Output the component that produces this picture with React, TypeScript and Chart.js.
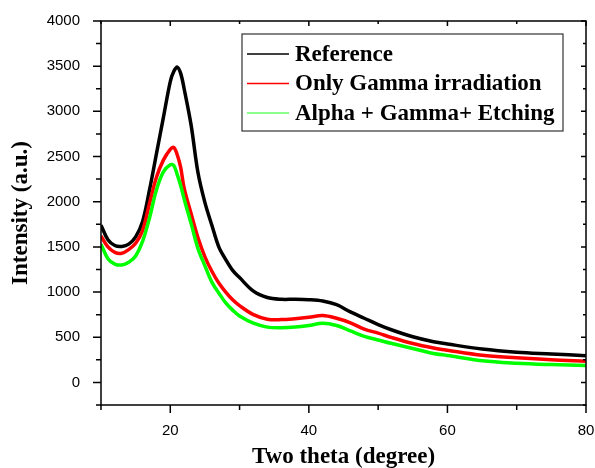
import React, { useEffect, useRef } from "react";
import { Chart, registerables } from "chart.js";

Chart.register(...registerables);

const twoTheta = [10, 11, 12, 13, 14, 15, 16, 17, 18, 19, 20, 20.5, 21, 21.5, 22, 23, 24, 25, 26, 27, 28, 29, 30, 32, 34, 36, 38, 40, 42, 44, 46, 48, 50, 52, 55, 58, 60, 65, 70, 75, 80];
const reference = [1740, 1580, 1515, 1505, 1530, 1610, 1780, 2130, 2530, 2930, 3330, 3440, 3490, 3420, 3250, 2850, 2320, 1990, 1740, 1500, 1360, 1240, 1160, 1010, 940, 920, 920, 915, 900, 860, 780, 710, 640, 580, 505, 450, 425, 370, 335, 315, 295];
const onlyGamma = [1620, 1500, 1440, 1430, 1470, 1540, 1680, 1980, 2270, 2460, 2580, 2600, 2520, 2380, 2150, 1870, 1600, 1390, 1230, 1100, 1000, 915, 850, 750, 700, 695, 705, 720, 740, 710, 660, 590, 545, 495, 430, 380, 355, 300, 272, 250, 235];
const alphaGammaEtching = [1530, 1370, 1310, 1300, 1330, 1400, 1560, 1820, 2130, 2330, 2410, 2400, 2300, 2180, 2030, 1760, 1480, 1290, 1110, 990, 880, 800, 735, 655, 612, 605, 612, 630, 655, 630, 570, 510, 470, 430, 375, 320, 298, 240, 213, 198, 188];

const seriesNames = ["Reference", "Only Gamma irradiation", "Alpha + Gamma+ Etching"];
const seriesColors = ["#000000", "#ff0000", "#00ff00"];
const xLabelValues = [20, 40, 60, 80];
const yLabelStep = 500;

const serif = "'Liberation Serif', 'Times New Roman', serif";
const sans = "'Liberation Sans', Arial, sans-serif";

const framePlugin = {
  id: "frameTicks",
  afterDatasetsDraw(chart: any) {
    const { ctx, chartArea, scales } = chart;
    const { left, right, top, bottom } = chartArea;
    const xs = scales.x;
    const ys = scales.y;
    ctx.save();
    ctx.strokeStyle = "#000";
    ctx.lineWidth = 1.5;
    ctx.strokeRect(left, top, right - left, bottom - top);
    ctx.beginPath();
    xs.ticks.forEach((t: any) => {
      const px = xs.getPixelForValue(t.value);
      const major = xLabelValues.includes(t.value);
      const len = major ? 8 : 5;
      ctx.moveTo(px, bottom);
      ctx.lineTo(px, bottom + len);
      ctx.moveTo(px, top);
      ctx.lineTo(px, top + (major ? 5 : 3));
    });
    ys.ticks.forEach((t: any) => {
      const py = ys.getPixelForValue(t.value);
      const major = t.value % yLabelStep === 0;
      const len = major ? 8 : 5;
      ctx.moveTo(left, py);
      ctx.lineTo(left - len, py);
      ctx.moveTo(right, py);
      ctx.lineTo(right - (major ? 5 : 3), py);
    });
    ctx.stroke();

    // legend box
    const bx = left + 141;
    const by = top + 13;
    const bw = right - 23 - bx;
    const bh = 97;
    ctx.fillStyle = "#fff";
    ctx.fillRect(bx, by, bw, bh);
    ctx.lineWidth = 1.2;
    ctx.strokeStyle = "#333";
    ctx.strokeRect(bx, by, bw, bh);
    ctx.font = `bold 23px ${serif}`;
    ctx.textBaseline = "middle";
    ctx.fillStyle = "#000";
    seriesNames.forEach((name, i) => {
      const cy = by + 20 + i * 29.5;
      ctx.beginPath();
      ctx.strokeStyle = i === 2 ? "#66ff66" : seriesColors[i];
      ctx.lineWidth = 1.5;
      ctx.moveTo(bx + 5, cy);
      ctx.lineTo(bx + 47, cy);
      ctx.stroke();
      ctx.fillText(name, bx + 53, cy + 1);
    });
    ctx.restore();
  },
};

export default function App() {
  const ref = useRef<HTMLCanvasElement | null>(null);
  useEffect(() => {
    if (!ref.current) return;
    const series = [reference, onlyGamma, alphaGammaEtching];
    const chart = new Chart(ref.current, {
      type: "line",
      data: {
        datasets: series.map((s, i) => ({
          label: seriesNames[i],
          data: twoTheta.map((x, j) => ({ x, y: s[j] })),
          borderColor: seriesColors[i],
          borderWidth: 3.5,
          pointRadius: 0,
          tension: 0.35,
          order: 2 - i,
        })),
      },
      options: {
        animation: false,
        responsive: true,
        maintainAspectRatio: false,
        layout: { padding: { left: 0, top: 21, right: 0, bottom: 0 } },
        plugins: { legend: { display: false }, tooltip: { enabled: false } },
        scales: {
          x: {
            type: "linear",
            min: 10,
            max: 80,
            grid: { display: false },
            border: { display: false },
            ticks: {
              stepSize: 10,
              autoSkip: false,
              maxRotation: 0,
              padding: 9,
              color: "#000",
              font: { family: sans, size: 15 },
              callback: (v: any) => (xLabelValues.includes(Number(v)) ? String(v) : ""),
            },
            title: {
              display: true,
              text: "Two theta (degree)",
              color: "#000",
              font: { family: serif, size: 23, weight: "bold" },
              padding: { top: 0, bottom: -3 },
            },
            afterFit: (s: any) => {
              s.height = 63;
              s.paddingLeft = 0;
              s.paddingRight = 9;
            },
          },
          y: {
            min: -250,
            max: 4000,
            grid: { display: false },
            border: { display: false },
            ticks: {
              stepSize: 250,
              autoSkip: false,
              padding: 13,
              color: "#000",
              font: { family: sans, size: 15 },
              callback: (v: any) => (Number(v) % yLabelStep === 0 ? String(v) : ""),
            },
            title: {
              display: true,
              text: "Intensity (a.u.)",
              color: "#000",
              font: { family: serif, size: 23, weight: "bold" },
              padding: { top: 7, bottom: 0 },
            },
            afterFit: (s: any) => {
              s.width = 101;
              s.paddingTop = 0;
              s.paddingBottom = 0;
            },
          },
        },
      },
      plugins: [framePlugin],
    });
    return () => chart.destroy();
  }, []);
  return (
    <div style={{ position: "absolute", left: 0, top: 0, width: 595, height: 468, background: "#fff" }}>
      <canvas ref={ref} />
    </div>
  );
}
